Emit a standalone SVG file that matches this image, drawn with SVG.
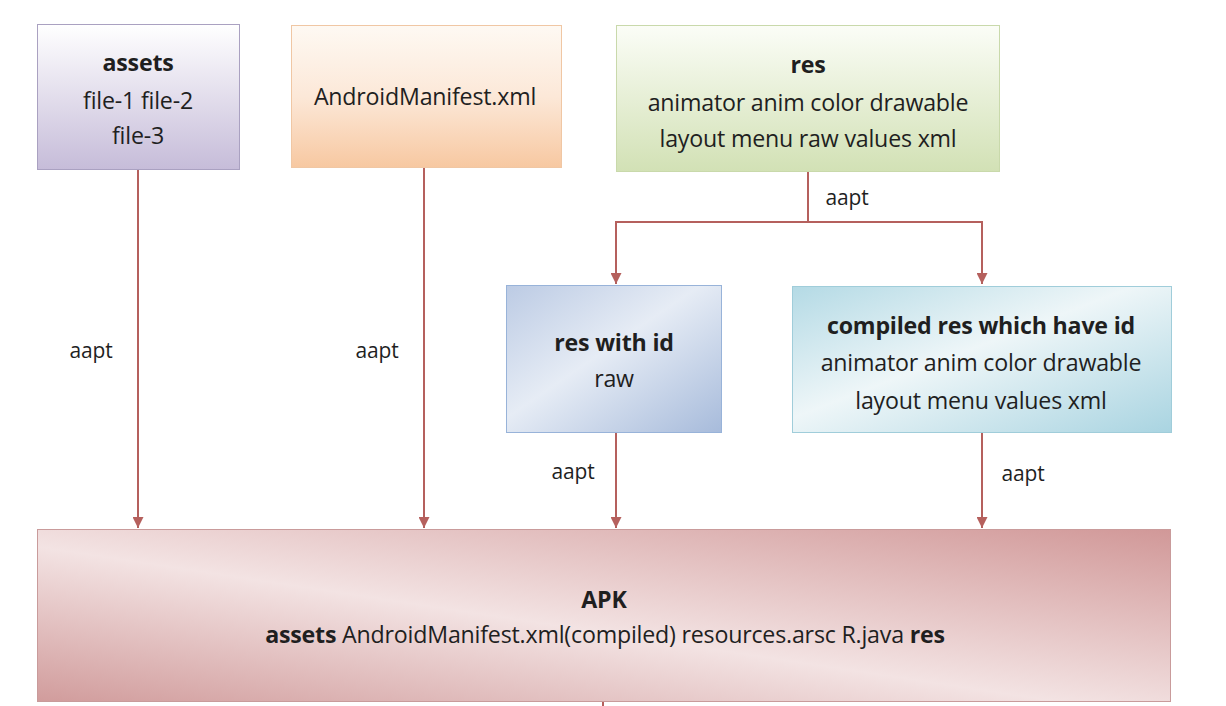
<svg xmlns="http://www.w3.org/2000/svg" width="1226" height="706" viewBox="0 0 1226 706">
<style>
text{font-family:"Open Sans","Liberation Sans",sans-serif;font-size:23.2px;fill:#1f1f1f;text-anchor:middle;letter-spacing:-0.2px}
.b{font-weight:bold}
.lbl{font-size:21px}
.c{stroke:#b5605d;stroke-width:2;fill:none}
</style>
<defs>
<marker id="ah" viewBox="0 0 10 10" refX="10" refY="5" markerWidth="12" markerHeight="11" orient="auto" markerUnits="userSpaceOnUse">
<path d="M0,0 L10,5 L0,10 z" fill="#b5605d"/>
</marker>
<linearGradient id="gPurple" x1="0" y1="0" x2="0" y2="1">
<stop offset="0" stop-color="#ffffff"/><stop offset="1" stop-color="#c6bcd9"/>
</linearGradient>
<linearGradient id="gOrange" x1="0" y1="0" x2="0" y2="1">
<stop offset="0" stop-color="#fef9f3"/><stop offset="0.5" stop-color="#fce8d8"/><stop offset="1" stop-color="#f7c8a1"/>
</linearGradient>
<linearGradient id="gGreen" x1="0" y1="0" x2="0" y2="1">
<stop offset="0" stop-color="#fbfdf7"/><stop offset="1" stop-color="#d2e1b5"/>
</linearGradient>
<linearGradient id="gBlue" x1="0" y1="0" x2="1" y2="1">
<stop offset="0" stop-color="#bccbe4"/><stop offset="0.45" stop-color="#e6ecf5"/><stop offset="1" stop-color="#a7bbdb"/>
</linearGradient>
<linearGradient id="gTeal" x1="0" y1="0" x2="1" y2="1">
<stop offset="0" stop-color="#b4dae5"/><stop offset="0.45" stop-color="#eef6f8"/><stop offset="1" stop-color="#a9d4e1"/>
</linearGradient>
<linearGradient id="gRed" x1="0" y1="1" x2="1" y2="0">
<stop offset="0" stop-color="#d19c9c"/><stop offset="0.45" stop-color="#f3e3e3"/><stop offset="1" stop-color="#d19898"/>
</linearGradient>
</defs>

<g id="connectors">
<line class="c" x1="138" y1="169" x2="138" y2="528" marker-end="url(#ah)"/>
<line class="c" x1="424" y1="167" x2="424" y2="528" marker-end="url(#ah)"/>
<polyline class="c" points="808,172 808,222"/>
<polyline class="c" points="616,270 616,222 982,222 982,270"/>
<line class="c" x1="616" y1="240" x2="616" y2="284" marker-end="url(#ah)"/>
<line class="c" x1="982" y1="240" x2="982" y2="284" marker-end="url(#ah)"/>
<line class="c" x1="616" y1="432" x2="616" y2="528" marker-end="url(#ah)"/>
<line class="c" x1="982" y1="432" x2="982" y2="528" marker-end="url(#ah)"/>
<line class="c" x1="603" y1="701" x2="603" y2="706"/>
<text class="lbl" x="91" y="358">aapt</text>
<text class="lbl" x="377" y="358">aapt</text>
<text class="lbl" x="847" y="205">aapt</text>
<text class="lbl" x="573" y="479">aapt</text>
<text class="lbl" x="1023" y="481">aapt</text>
</g>

<g id="assets">
<rect x="37.5" y="24.5" width="202" height="145" fill="url(#gPurple)" stroke="#aaa1c1"/>
<text class="b" x="138" y="71">assets</text>
<text x="138" y="109">file-1 file-2</text>
<text x="138" y="144">file-3</text>
</g>

<g id="manifest">
<rect x="291.5" y="25.5" width="270" height="142" fill="url(#gOrange)" stroke="#f0c7a4"/>
<text x="425" y="105">AndroidManifest.xml</text>
</g>

<g id="res">
<rect x="616.5" y="25.5" width="383" height="146" fill="url(#gGreen)" stroke="#c9d9ab"/>
<text class="b" x="808" y="73">res</text>
<text x="808" y="111">animator anim color drawable</text>
<text x="808" y="147">layout menu raw values xml</text>
</g>

<g id="res-with-id">
<rect x="506.5" y="285.5" width="215" height="147" fill="url(#gBlue)" stroke="#98b3d9"/>
<text class="b" x="614" y="351">res with id</text>
<text x="614" y="387">raw</text>
</g>

<g id="compiled-res">
<rect x="792.5" y="286.5" width="379" height="146" fill="url(#gTeal)" stroke="#a0cdda"/>
<text class="b" x="981" y="334">compiled res which have id</text>
<text x="981" y="371">animator anim color drawable</text>
<text x="981" y="409">layout menu values xml</text>
</g>

<g id="apk">
<rect x="37.5" y="529.5" width="1133" height="172" fill="url(#gRed)" stroke="#c99b9b"/>
<text class="b" x="604" y="608">APK</text>
<text x="605" y="643"><tspan class="b">assets</tspan> AndroidManifest.xml(compiled) resources.arsc R.java <tspan class="b">res</tspan></text>
</g>
</svg>
